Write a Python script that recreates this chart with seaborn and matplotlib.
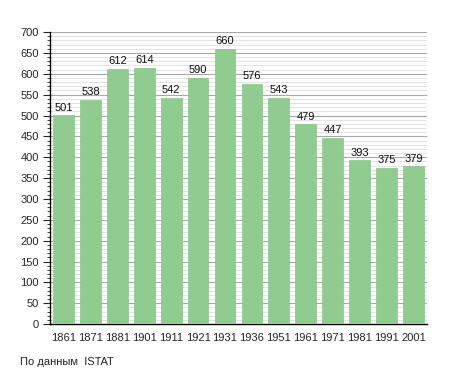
import matplotlib
matplotlib.use('Agg')
import matplotlib.pyplot as plt
import seaborn as sns
import pandas as pd
from matplotlib.ticker import MultipleLocator

# Population by census year
years = ['1861', '1871', '1881', '1901', '1911', '1921', '1931',
         '1936', '1951', '1961', '1971', '1981', '1991', '2001']
population = [501, 538, 612, 614, 542, 590, 660, 576, 543, 479, 447, 393, 375, 379]

data = pd.DataFrame({'year': years, 'population': population})

sns.set_style('white')
plt.rcParams['font.family'] = ['Liberation Sans', 'DejaVu Sans']

fig = plt.figure(figsize=(4.55, 3.73), dpi=100)
ax = fig.add_axes([0.11, 0.131, 0.828, 0.783])

sns.barplot(x='year', y='population', data=data, color='#90cc90',
            saturation=1, width=0.77, edgecolor='#88c488', linewidth=0.5,
            ax=ax, zorder=3)

for i, v in enumerate(population):
    ax.text(i, v + 6, str(v), ha='center', va='bottom', fontsize=8, color='#111111')

ax.set_ylim(0, 700)
ax.set_xlim(-0.5, len(years) - 0.5)
ax.yaxis.set_major_locator(MultipleLocator(50))
ax.yaxis.set_minor_locator(MultipleLocator(10))
ax.grid(axis='y', which='major', color='#a8a8a8', linewidth=0.8, zorder=0)
ax.grid(axis='y', which='minor', color='#dedede', linewidth=0.6, zorder=0)
ax.set_axisbelow(True)

for s in ['top', 'right']:
    ax.spines[s].set_visible(False)
ax.spines['left'].set_color('black')
ax.spines['bottom'].set_color('black')
ax.spines['left'].set_linewidth(1)
ax.spines['bottom'].set_linewidth(1)

ax.tick_params(axis='y', which='major', left=True, length=5, width=0.8, labelsize=8, pad=3)
ax.tick_params(axis='y', which='minor', left=True, length=2.5, width=0.6)
ax.tick_params(axis='x', bottom=False, labelsize=8, pad=3)
ax.set_xlabel('')
ax.set_ylabel('')

fig.text(20 / 455, 1 - 362 / 373, 'По данным  ISTAT', fontsize=8, va='center', ha='left')

fig.savefig('out.png', dpi=100)
